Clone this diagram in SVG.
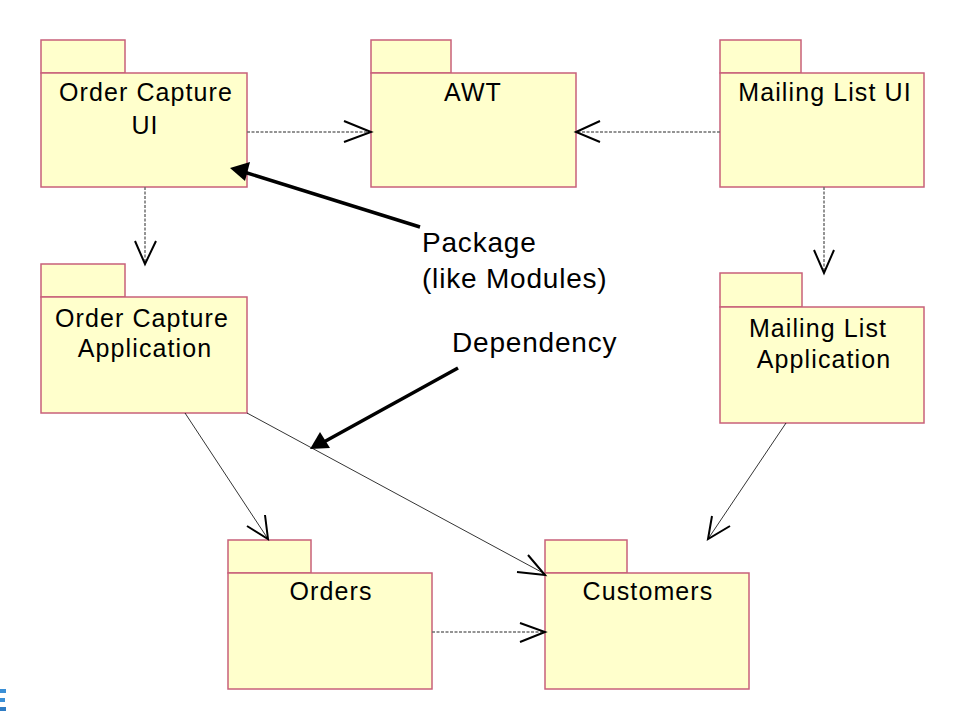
<svg xmlns="http://www.w3.org/2000/svg" width="959" height="714" viewBox="0 0 959 714">
<style>
.pk{fill:#ffffcc;stroke:#c8607a;stroke-width:1.5}
.lb{font-family:"Liberation Sans",Arial,sans-serif;font-size:25px;letter-spacing:1.1px;fill:#000;text-anchor:middle}
.an{font-family:"Liberation Sans",Arial,sans-serif;font-size:28px;letter-spacing:0.8px;fill:#000}
.dash{stroke:#707070;stroke-width:1.5;stroke-dasharray:3,1.5;fill:none}
.thin{stroke:#000;stroke-width:0.8;fill:none}
.head{stroke:#000;stroke-width:2;fill:none}
.big{stroke:#000;stroke-width:3.5;fill:none}
</style>
<rect width="959" height="714" fill="#fff"/>
<g id="order-capture-ui">
<rect class="pk" x="41" y="40" width="84" height="33"/>
<rect class="pk" x="41" y="73" width="206" height="114"/>
<text class="lb" x="146" y="101">Order Capture</text>
<text class="lb" x="145" y="134">UI</text>
</g>
<g id="awt">
<rect class="pk" x="371" y="40" width="80" height="33"/>
<rect class="pk" x="371" y="73" width="205" height="114"/>
<text class="lb" x="473" y="101">AWT</text>
</g>
<g id="mailing-list-ui">
<rect class="pk" x="720" y="40" width="81" height="33"/>
<rect class="pk" x="720" y="73" width="204" height="114"/>
<text class="lb" x="825" y="101">Mailing List UI</text>
</g>
<g id="order-capture-application">
<rect class="pk" x="41" y="264" width="84" height="33"/>
<rect class="pk" x="41" y="297" width="206" height="116"/>
<text class="lb" x="142" y="327">Order Capture</text>
<text class="lb" x="145" y="357">Application</text>
</g>
<g id="mailing-list-application">
<rect class="pk" x="720" y="273" width="82" height="34"/>
<rect class="pk" x="720" y="307" width="204" height="116"/>
<text class="lb" x="818" y="337">Mailing List</text>
<text class="lb" x="824" y="368">Application</text>
</g>
<g id="orders">
<rect class="pk" x="228" y="540" width="83" height="33"/>
<rect class="pk" x="228" y="573" width="204" height="116"/>
<text class="lb" x="331" y="600">Orders</text>
</g>
<g id="customers">
<rect class="pk" x="545" y="540" width="82" height="33"/>
<rect class="pk" x="545" y="573" width="204" height="116"/>
<text class="lb" x="648" y="600">Customers</text>
</g>
<g id="connectors">
<line class="dash" x1="247" y1="132" x2="370" y2="132"/>
<polyline class="head" points="344,121 371,132 344,142"/>
<line class="dash" x1="720" y1="132" x2="577" y2="132"/>
<polyline class="head" points="600,121 576,132 600,142"/>
<line class="dash" x1="145" y1="187" x2="145" y2="263"/>
<polyline class="head" points="135,241 145,264 156,241"/>
<line class="dash" x1="824" y1="187" x2="824" y2="272"/>
<polyline class="head" points="814,250 824,273 834,250"/>
<line class="dash" x1="432" y1="632" x2="544" y2="632"/>
<polyline class="head" points="520,623 545,632 520,642"/>
<line class="thin" x1="185" y1="413" x2="268" y2="539"/>
<polyline class="head" points="247,526 268,539 265,515"/>
<line class="thin" x1="247" y1="413" x2="545" y2="574"/>
<polyline class="head" points="517,572 545,575 528,555"/>
<line class="thin" x1="786" y1="423" x2="708" y2="539"/>
<polyline class="head" points="712,516 708,539 730,526"/>
</g>
<g id="annotations">
<line class="big" x1="420" y1="227" x2="244" y2="172"/>
<polygon points="230,168 250,162 245,181" fill="#000"/>
<text class="an" x="422" y="252">Package</text>
<text class="an" x="422" y="288">(like Modules)</text>
<line class="big" x1="458" y1="368" x2="322" y2="443"/>
<polygon points="310,449 320,432 330,448" fill="#000"/>
<text class="an" x="452" y="352">Dependency</text>
</g>
<g id="logo">
<rect x="0" y="689" width="6" height="4" fill="#3a8fd6"/>
<rect x="0" y="698" width="5" height="4" fill="#3a8fd6"/>
<rect x="0" y="707" width="6" height="4" fill="#2f7cc4"/>
</g>
</svg>
